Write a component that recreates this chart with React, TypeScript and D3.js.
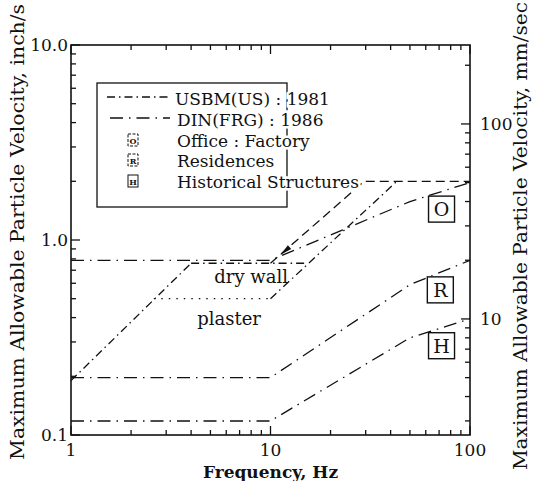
import React from "react";
import * as d3 from "d3";

const W = 538;
const H = 481;
const PLOT = { left: 71, right: 470, top: 45, bottom: 435 };

// axis domains and labelled ticks
const FREQ_DOMAIN = [1, 100];
const VEL_DOMAIN = [0.1, 10];
const FREQ_LABELS = [1, 10, 100];
const VEL_LABELS = [0.1, 1, 10];
const VEL_LABEL_TEXT = ["0.1", "1.0", "10.0"];
const MM_LABELS = [10, 100];

// USBM (US) 1981 criteria, [Hz, inch/s]
const usbmLow = [[1, 0.19], [4, 0.76]];
const usbmDryWall = [[4, 0.76], [15, 0.76]];
const usbmDryRise = [[10, 0.76], [29.5, 2.0], [100, 2.0]];
const usbmPlaster = [[2.6, 0.5], [10, 0.5]];
const usbmPlasterRise = [[10, 0.5], [43, 2.0]];

// DIN 4150 (FRG) 1986 criteria, [Hz, inch/s]
const dinOffice = [[1, 0.787], [10, 0.787], [50, 1.575], [100, 1.97]];
const dinResidences = [[1, 0.197], [10, 0.197], [50, 0.59], [100, 0.787]];
const dinHistorical = [[1, 0.118], [10, 0.118], [50, 0.315], [100, 0.394]];

// boxed class markers, [Hz, inch/s]
const classLetters = ["O", "R", "H"];
const classAt = [[72, 1.44], [71, 0.555], [72, 0.287]];

const LEGEND_ITEMS = ["Office : Factory", "Residences", "Historical Structures"];

const SERIF = "'DejaVu Serif', 'Liberation Serif', serif";
const USBM_DASH = "8,4,1.5,4";
const DIN_DASH = "13,6,1.5,6";
const DOT_DASH = "1.5,6";

export default function App() {
  const x = d3.scaleLog().domain(FREQ_DOMAIN).range([PLOT.left, PLOT.right]);
  const y = d3.scaleLog().domain(VEL_DOMAIN).range([PLOT.bottom, PLOT.top]);
  const yMm = d3
    .scaleLog()
    .domain([VEL_DOMAIN[0] * 25.4, VEL_DOMAIN[1] * 25.4])
    .range([PLOT.bottom, PLOT.top]);

  const line = d3
    .line<number[]>()
    .x((d) => x(d[0]))
    .y((d) => y(d[1]));

  const isMajor = (v: number) => Math.abs(Math.log10(v) - Math.round(Math.log10(v))) < 1e-6;

  const xTicks = x.ticks();
  const yTicks = y.ticks();
  const mmTicks = yMm.ticks();

  const stroke = "#111";

  const series = [
    { d: usbmLow, dash: USBM_DASH },
    { d: usbmDryWall, dash: USBM_DASH },
    { d: usbmDryRise, dash: "9,5" },
    { d: usbmPlaster, dash: DOT_DASH },
    { d: usbmPlasterRise, dash: USBM_DASH },
    { d: dinOffice, dash: DIN_DASH },
    { d: dinResidences, dash: DIN_DASH },
    { d: dinHistorical, dash: DIN_DASH },
  ];

  // arrow on the dry wall rise, pointing back down the line
  const ax = x(12);
  const ay = y(0.89);
  const angle = Math.atan2(y(0.76) - ay, x(10) - ax);
  const ah = 8;
  const arrow = [
    [ax + Math.cos(angle) * ah, ay + Math.sin(angle) * ah],
    [ax + Math.cos(angle + 2.6) * 5, ay + Math.sin(angle + 2.6) * 5],
    [ax + Math.cos(angle - 2.6) * 5, ay + Math.sin(angle - 2.6) * 5],
  ];

  const halo = { stroke: "#fff", strokeWidth: 5, paintOrder: "stroke" as const };
  const legendBase = [147, 167, 188];
  const iconMid = [140, 160, 181];

  return (
    <svg
      width={W}
      height={H}
      style={{ position: "absolute", left: 0, top: 0, background: "#fff", fontFamily: SERIF }}
    >
      {/* criteria lines */}
      {series.map((s, i) => (
        <path
          key={i}
          d={line(s.d) || ""}
          fill="none"
          stroke={stroke}
          strokeWidth={1.3}
          strokeDasharray={s.dash}
        />
      ))}
      <path d={d3.line()(arrow as [number, number][]) + "Z"} fill={stroke} />

      {/* frame */}
      <rect
        x={PLOT.left}
        y={PLOT.top}
        width={PLOT.right - PLOT.left}
        height={PLOT.bottom - PLOT.top}
        fill="none"
        stroke={stroke}
        strokeWidth={1.6}
      />

      {/* x ticks, bottom and top, pointing in */}
      {xTicks.map((t, i) => {
        const len = isMajor(t) ? 9 : 5;
        return (
          <g key={i} stroke={stroke} strokeWidth={1.3}>
            <line x1={x(t)} x2={x(t)} y1={PLOT.bottom} y2={PLOT.bottom - len} />
            <line x1={x(t)} x2={x(t)} y1={PLOT.top} y2={PLOT.top + len} />
          </g>
        );
      })}
      {/* left ticks (inch/s) */}
      {yTicks.map((t, i) => {
        const len = isMajor(t) ? 9 : 5;
        return (
          <line key={i} x1={PLOT.left} x2={PLOT.left + len} y1={y(t)} y2={y(t)} stroke={stroke} strokeWidth={1.3} />
        );
      })}
      {/* right ticks (mm/s) */}
      {mmTicks.map((t, i) => {
        const len = isMajor(t) ? 9 : 5;
        return (
          <line key={i} x1={PLOT.right} x2={PLOT.right - len} y1={yMm(t)} y2={yMm(t)} stroke={stroke} strokeWidth={1.3} />
        );
      })}

      {/* tick labels */}
      {FREQ_LABELS.map((t) => (
        <text key={t} x={x(t)} y={PLOT.bottom + 21} textAnchor="middle" fontSize={17} fill={stroke}>
          {t}
        </text>
      ))}
      {VEL_LABELS.map((t, i) => (
        <text key={t} x={PLOT.left - 3} y={y(t) + 6} textAnchor="end" fontSize={17} fill={stroke}>
          {VEL_LABEL_TEXT[i]}
        </text>
      ))}
      {MM_LABELS.map((t) => (
        <text key={t} x={PLOT.right + 10} y={yMm(t) + 6} textAnchor="start" fontSize={17} fill={stroke}>
          {t}
        </text>
      ))}

      {/* axis titles */}
      <text x={x(10)} y={PLOT.bottom + 43} textAnchor="middle" fontSize={17} fontWeight={600} fill={stroke}>
        Frequency, Hz
      </text>
      <text
        transform={`translate(24,232) rotate(-90)`}
        textAnchor="middle"
        fontSize={18}
        textLength={456}
        lengthAdjust="spacingAndGlyphs"
        fill={stroke}
      >
        Maximum Allowable Particle Velocity, inch/s
      </text>
      <text
        transform={`translate(527,236) rotate(-90)`}
        textAnchor="middle"
        fontSize={18}
        textLength={468}
        lengthAdjust="spacingAndGlyphs"
        fill={stroke}
      >
        Maximum Allowable Particle Velocity, mm/sec
      </text>

      {/* in-plot annotations */}
      <text x={x(8)} y={y(0.6)} textAnchor="middle" fontSize={18} fill={stroke}>
        dry wall
      </text>
      <text x={x(6.2)} y={y(0.366)} textAnchor="middle" fontSize={18} fill={stroke}>
        plaster
      </text>
      {classLetters.map((c, i) => {
        const cx = x(classAt[i][0]);
        const cy = y(classAt[i][1]);
        return (
          <g key={c}>
            <rect x={cx - 13} y={cy - 13} width={26} height={26} fill="#fff" stroke={stroke} strokeWidth={1.4} />
            <text x={cx} y={cy + 7} textAnchor="middle" fontSize={19} fill={stroke}>
              {c}
            </text>
          </g>
        );
      })}

      {/* legend */}
      <rect x={97} y={83} width={190} height={124} fill="none" stroke={stroke} strokeWidth={1.3} />
      <line x1={107} x2={170} y1={97} y2={97} stroke={stroke} strokeWidth={1.3} strokeDasharray={USBM_DASH} />
      <line x1={110} x2={170} y1={118} y2={118} stroke={stroke} strokeWidth={1.3} strokeDasharray={DIN_DASH} />
      <text x={175} y={105} fontSize={17} fill={stroke} style={halo}>
        USBM(US) : 1981
      </text>
      <text x={177} y={126} fontSize={17} fill={stroke} style={halo}>
        DIN(FRG) : 1986
      </text>
      {LEGEND_ITEMS.map((label, i) => {
        const ly = iconMid[i];
        return (
          <g key={label}>
            <rect x={128} y={ly - 6} width={10} height={12} fill="#fff" stroke={stroke} strokeWidth={1} strokeDasharray={i === 2 ? undefined : "3,1.5"} />
            <text x={133} y={ly + 3.5} textAnchor="middle" fontSize={8} fontWeight={700} fill={stroke}>
              {classLetters[i]}
            </text>
            <text x={177} y={legendBase[i]} fontSize={17} fill={stroke} style={halo}>
              {label}
            </text>
          </g>
        );
      })}
    </svg>
  );
}
